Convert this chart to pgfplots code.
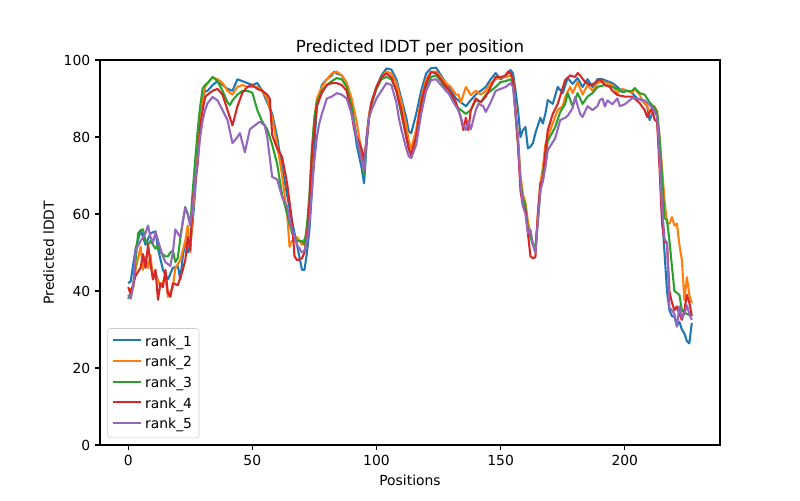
\documentclass[border=0pt]{standalone}
\usepackage{fontspec}
\setmainfont{DejaVu Sans}
\usepackage{pgfplots}
\pgfplotsset{compat=1.18}
\definecolor{c0}{HTML}{1F77B4}
\definecolor{c1}{HTML}{FF7F0E}
\definecolor{c2}{HTML}{2CA02C}
\definecolor{c3}{HTML}{D62728}
\definecolor{c4}{HTML}{9467BD}
\begin{document}
\begin{tikzpicture}
\useasboundingbox (-72pt,-39.6pt) rectangle (504pt,320.4pt);
\begin{axis}[
    at={(0,0)}, anchor=south west,
    width=446.4pt, height=277.2pt, scale only axis,
    xmin=-11.35, xmax=238.35, ymin=0, ymax=100,
    xtick={0,50,...,200}, ytick={0,20,...,100},
    tick align=outside, tick pos=left, major tick length=3.5pt,
    every tick/.style={black, line width=0.8pt},
    axis line style={line width=0.8pt},
    /pgf/number format/assume math mode=true,
    tick label style={font=\fontsize{10}{12}\selectfont},
    label style={font=\fontsize{10}{12}\selectfont},
    title={Predicted lDDT per position},
    title style={font=\fontsize{12}{14}\selectfont, yshift=-6.5pt},
    xlabel={Positions}, ylabel={Predicted lDDT},
    legend style={at={(0.012,0.018)}, anchor=south west, draw=black!20,
        rounded corners=2pt, fill=white, fill opacity=0.8, text opacity=1,
        font=\fontsize{10}{12}\selectfont, row sep=1.8pt, inner sep=3pt},
    legend cell align=left,
    legend image code/.code={\draw[#1, line width=1.5pt] (0cm,0.04cm) -- (0.72cm,0.04cm);},
    every axis plot/.append style={line width=1.5pt, line join=round},
]
\addplot[c0] coordinates {(0,42)(1,42.5)(3,51)(5,55.8)(6,54)(7,52)(9,55)(11,55.5)(12,51)(14,45.5)(16,43)(18,46)(20,46.5)(21,43)(22,49)(23,53)(24,50)(25,52)(26,58)(27,66)(28,78)(29,86)(30,90)(31,92)(32,92)(34,93.5)(36,94.5)(38,93.5)(40,92.5)(42,92)(44,95)(46,94.5)(48,94)(50,93.5)(52,94)(54,92)(56,89)(58,86)(60,80)(62,72)(64,65)(66,58)(68,52)(70,45.5)(71,45.5)(72,50)(73,56)(74,66)(75,78)(76,88)(78,93.5)(80,95)(82,96)(83,97)(84,96.5)(86,96)(88,94)(90,88)(91,83)(92,78)(93,75)(94,72)(95,68)(96,78)(97,85)(98,89)(100,93)(102,96)(104,97.8)(106,97.5)(108,95)(110,90)(112,85)(113,81.5)(114,81)(116,86)(118,92)(120,96.5)(122,97.9)(124,98)(126,96)(128,94)(130,92)(132,90)(134,89)(136,88)(138,89.6)(140,91)(142,92)(144,93)(146,95)(148,96.6)(150,95)(152,96)(154,97.4)(155,96.5)(156,92)(157,87)(158,80)(159,81.8)(160,82.6)(161,77)(162,77.5)(163,78.4)(164,81)(166,85)(167,83.5)(168,86)(169,89.6)(171,88.6)(173,93)(175,91.4)(177,95.3)(179,93.8)(181,95.3)(183,93)(185,95)(187,93)(189,95)(191,95)(193,94.5)(195,94)(197,93)(199,91.7)(201,92)(203,91.4)(205,90)(207,89.5)(209,88)(210,84.4)(212,87.5)(213,86)(214,75)(215,60)(216,50)(217,40)(218,35)(219,33.5)(220,33.3)(221,31)(222,32)(223,30)(224,29)(225,27)(226,26.4)(227,31.7)};
\addplot[c1] coordinates {(0,40)(2,41)(3,45.5)(5,51.5)(6,45.5)(7,48.9)(8,46)(9,49.4)(10,43)(11,44.7)(13,41)(15,43.6)(16,38.5)(18,41)(19,46)(21,48)(23,53)(24,57)(25,50)(26,60)(27,68)(28,76)(29,84)(30,90)(31,93)(32,94)(34,95.5)(36,95)(38,94)(40,92)(42,91)(44,93)(46,93.5)(48,93)(50,93)(52,93)(54,92)(56,90)(58,85)(60,78)(62,70)(64,60)(65,51.5)(66,53)(68,54)(70,52)(72,55)(73,62)(74,75)(75,85)(76,90)(78,93)(80,95)(82,96.5)(84,97)(86,96)(88,94)(90,90)(92,84)(93,80)(94,76)(95,73)(96,80)(97,86)(98,89)(100,93)(102,95.5)(104,97)(106,96.5)(108,94)(110,89)(112,83)(113,79)(114,77)(116,82)(118,90)(120,95)(122,97)(124,97)(126,95.6)(128,94)(130,93)(132,91)(133,91)(134,89)(136,93)(138,90.9)(140,92)(142,91)(144,92)(146,94)(148,95)(150,95.5)(152,95.5)(154,96)(155,95)(156,88)(157,80)(158,70)(159,65)(160,63)(161,58)(162,55)(163,52)(164,50)(165,60)(166,68)(167,72)(168,78)(169,80)(171,83.6)(173,87)(175,88)(176,90.4)(178,93)(179,91.4)(181,94.3)(183,91)(185,93.5)(187,92)(189,94)(191,94.5)(193,94)(195,93.5)(197,91.4)(199,92.5)(201,92)(203,91.5)(204,92.5)(206,91)(207,89.5)(209,88)(210,86.5)(212,88)(213,86.6)(214,80)(215,72)(216,63.6)(217,57.7)(218,57.5)(219,59.2)(220,57)(221,57.5)(222,52)(223,48)(224,37.7)(225,43.6)(226,39)(227,36.9)};
\addplot[c2] coordinates {(0,38)(2,41)(4,55)(5,55.8)(6,56)(7,53)(8,52)(9,53)(10,52)(11,51)(12,52)(13,50)(15,49)(16,49)(17,50)(18,50.5)(19,47.5)(20,48.6)(21,53.7)(22,58)(23,61.8)(24,60)(25,57)(26,66)(27,74)(28,81.8)(29,88)(30,92.6)(31,93.5)(32,94)(34,95.6)(36,94.5)(38,92)(40,89)(41,88.3)(42,89.5)(44,91)(46,92)(48,92)(50,91.5)(52,87)(54,84)(56,82)(58,78)(60,73)(62,65)(64,60)(66,55)(68,53)(70,53)(71,52)(72,57)(73,65)(74,77)(75,85)(76,89)(78,92)(80,93.5)(82,94.5)(84,95.3)(86,95)(88,93)(90,88)(92,80)(93,77)(94,74)(95,70)(96,79)(97,85)(98,88.5)(100,92.5)(102,95)(104,95.6)(106,95)(108,92)(110,86)(112,80)(113,77)(114,75)(116,80)(118,88)(120,93)(122,95.6)(124,96)(126,94.5)(128,92)(130,91)(132,88)(134,87)(136,86)(138,87)(140,89.6)(142,89)(144,91)(146,92)(148,93)(150,94.3)(152,94.5)(154,95)(155,94)(156,86)(157,78)(158,68)(159,64)(160,62)(161,56)(162,54)(163,52)(164,52)(165,58)(166,66)(167,70)(168,75)(169,79)(172,82.6)(174,86.5)(176,88.6)(177,91.4)(179,88)(181,91.4)(183,88.6)(185,90.5)(187,91.4)(189,93)(192,93.5)(195,93)(197,92.5)(199,91.7)(201,92)(203,92)(204,92.7)(206,91.4)(208,91)(210,89)(211,88.3)(213,86.6)(214,80)(215,70)(216,59)(217,58.4)(218,53)(219,46.3)(220,40)(221,39.5)(222,39)(223,35)(224,34.5)(225,34)(226,33.8)(227,34)};
\addplot[c3] coordinates {(0,41)(1,39.5)(3,44)(5,46)(6,49.6)(7,46)(8,52)(9,47)(10,43)(11,45.5)(12,37.7)(13,42)(14,41)(15,45.5)(16,39.5)(17,38.5)(18,42)(20,41.5)(22,45.5)(23,48)(24,54)(25,50.6)(26,64)(27,68)(28,73)(29,82.6)(30,87)(31,90.4)(32,91)(34,92)(36,92.5)(38,91)(40,87)(42,83)(44,88)(46,91.5)(48,93)(50,93.5)(52,92.5)(54,92)(56,91)(57,90)(58,80.5)(60,77)(61,76)(62,74.8)(64,68)(66,58)(67,49)(68,48)(70,48.5)(71,50)(72,54)(73,63)(74,76)(75,82)(76,88)(78,91.5)(80,93.5)(82,94)(84,94)(86,93.5)(88,92)(90,86)(91,82)(92,80)(93,78.7)(94,77)(95,74)(96,79)(97,85)(98,89)(100,93)(102,95.5)(104,96.5)(106,95.5)(108,92)(110,87)(112,80)(113,77)(114,75.5)(116,80)(118,89)(120,94)(122,96.9)(124,96.5)(126,95)(128,93)(130,91.5)(132,89)(134,85)(135,81.8)(136,85)(137,81.8)(138,87)(140,90)(142,89)(144,90.5)(146,93)(148,95.6)(150,95.5)(152,96)(153,97)(154,96.5)(155,95)(156,86)(157,78)(158,66)(159,62)(160,61)(161,55)(162,49)(163,48.5)(164,48.8)(165,60)(166,68)(167,68.5)(168,76)(169,81.8)(171,86)(173,88.6)(176,94.8)(178,96)(180,95.6)(181,96.6)(182,96)(184,94.3)(186,93.5)(188,94)(190,95)(192,93.5)(194,93)(195,92)(197,90.9)(200,90.5)(203,90.5)(206,88.8)(208,87)(209,85.2)(211,87.5)(212,84.5)(213,84)(214,72)(215,57.7)(216,52.8)(217,52.5)(218,39.8)(219,37)(220,35)(221,36)(222,34)(223,32.5)(224,35)(225,39)(226,37)(227,33.5)};
\addplot[c4] coordinates {(0,39)(1,38)(2,41)(3,50.6)(5,53)(7,55)(8,57)(9,54)(10,52.5)(11,55.4)(13,51)(14,49)(15,47.5)(17,46.5)(18,50)(19,56)(20,55)(21,54)(22,58)(23,61.5)(24,60)(25,57)(26,62)(27,69)(28,74)(29,80)(30,84.4)(31,87)(32,88.8)(34,90.4)(36,89.5)(38,87)(40,84.4)(42,78.4)(44,80)(45,81)(47,76)(49,82)(51,83)(53,84)(55,83)(56,80)(58,69.6)(60,69)(62,64.4)(64,62)(65,58.4)(66,56)(68,52)(70,50)(71,50.5)(72,53)(73,58)(74,66)(75,74)(76,80)(77,83.6)(78,86)(80,90)(82,90.5)(84,91.4)(86,91)(88,90)(90,86)(92,80)(93,77)(94,74)(95,71)(96,80)(97,85)(98,87)(100,90)(102,92)(104,94)(106,93.5)(108,89)(109,85)(110,82)(112,77)(113,75)(114,74.5)(116,78)(118,86)(120,92)(122,94.8)(124,95)(126,93.5)(128,92)(129,91.4)(131,89)(133,87)(135,83)(136,81.8)(137,84)(138,82)(140,87)(141,88.6)(143,88)(144,86.5)(146,89)(148,92)(150,92.5)(152,93)(154,94)(155,93)(156,86)(157,80)(158,68)(159,62)(160,60)(161,55)(162,56)(163,52)(164,50)(165,58)(166,66)(167,68.5)(168,72)(169,76.6)(172,79.7)(174,84.4)(176,85)(177,85.5)(179,87.5)(180,90.4)(182,86)(183,85.2)(185,88)(187,87)(189,88)(190,89.6)(191,90)(192,87.9)(193,89.5)(195,88.5)(197,90)(198,88)(200,88.5)(203,90.1)(205,90)(208,89.5)(211,87.7)(212,86.5)(213,85.5)(214,75)(215,62)(216,53.5)(217,52.5)(218,35.6)(219,35)(220,34)(221,30.7)(222,36)(223,33)(224,34)(225,36.3)(226,34)(227,32.5)};
\legend{rank\_1, rank\_2, rank\_3, rank\_4, rank\_5}
\end{axis}
\end{tikzpicture}
\end{document}
